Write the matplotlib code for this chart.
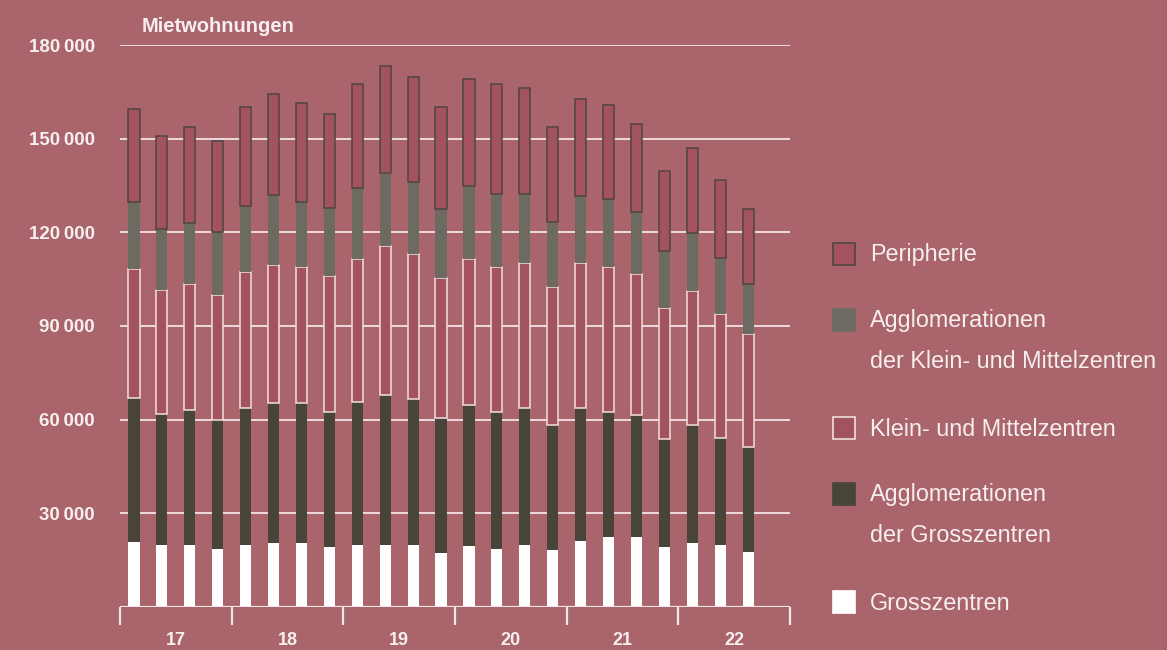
#!/usr/bin/env python3
"""
Mietwohnungen — stacked bars per quarter, 2017 to 2022 Q3
Output: out.png
"""

import matplotlib.pyplot as plt
from matplotlib.patches import Rectangle
import numpy as np

plt.rcParams['font.family'] = ['Liberation Sans', 'DejaVu Sans']

YEARS = ["17", "18", "19", "20", "21", "22"]
QUARTERS_PER_YEAR = 4

# values in thousands, one per quarter (23 quarters)
grosszentren = [20.8, 19.9, 19.9, 18.6, 19.9, 20.5, 20.5, 19.2, 19.9, 19.9, 19.9, 17.3,
                19.5, 18.6, 19.9, 18.3, 21.1, 22.4, 22.4, 19.2, 20.5, 19.9, 17.6]
agglo_gross = [46.2, 42.0, 43.3, 41.2, 43.9, 44.9, 44.9, 43.4, 45.9, 48.1, 46.6, 43.3,
               45.3, 44.0, 43.9, 40.1, 42.7, 40.2, 39.2, 34.7, 37.9, 34.3, 33.7]
klein_mittel = [41.3, 39.7, 40.2, 40.0, 43.4, 44.2, 43.4, 43.4, 45.6, 47.5, 46.7, 44.8,
                46.6, 46.4, 46.5, 44.0, 46.5, 46.4, 45.0, 41.8, 42.7, 39.7, 36.0]
agglo_km = [21.3, 19.6, 19.6, 20.4, 21.3, 22.5, 20.8, 21.8, 22.7, 23.4, 22.8, 22.0,
            23.4, 23.4, 22.1, 20.9, 21.3, 21.7, 19.9, 18.3, 18.8, 17.8, 16.0]
peripherie = [29.8, 29.7, 30.6, 29.2, 31.5, 32.1, 31.7, 30.2, 33.3, 34.5, 33.7, 32.6,
              34.2, 35.0, 33.7, 30.5, 31.0, 30.0, 28.2, 25.5, 27.0, 25.0, 24.2]

Y_TICKS = [30000, 60000, 90000, 120000, 150000, 180000]

BG       = "#a9646c"
BAR_FILL = "#a3525f"
WHITE    = "#ffffff"
TEXT     = "#f7eeee"
GRID     = "#f3e4e6"
DARK     = "#48443a"
GREY     = "#6d6a62"
EDGE_DK  = "#4f4540"
EDGE_LT  = "#f2dfe1"

fig = plt.figure(figsize=(11.67, 6.5), dpi=100, facecolor=BG)
ax = fig.add_axes([120 / 1167, 1 - 607 / 650, 670 / 1167, 562 / 650])
ax.set_facecolor(BG)

n = len(grosszentren)
x = np.arange(n) + 0.5
w = 0.40

series = [
    (grosszentren, WHITE, WHITE, 0),
    (agglo_gross, DARK, DARK, 0),
    (klein_mittel, BAR_FILL, EDGE_LT, 1.1),
    (agglo_km, GREY, GREY, 0),
    (peripherie, BAR_FILL, EDGE_DK, 1.1),
]
bottom = np.zeros(n)
for vals, fc, ec, lw in series:
    v = np.array(vals) * 1000
    ax.bar(x, v, w, bottom=bottom, color=fc, edgecolor=ec, linewidth=lw, zorder=3)
    bottom += v

ax.set_xlim(0, len(YEARS) * QUARTERS_PER_YEAR)
ax.set_ylim(0, 180000)
for s in ax.spines.values():
    s.set_visible(False)

for yv in Y_TICKS:
    ax.axhline(yv, color=GRID, linewidth=1.3, zorder=1)
ax.axhline(0, color=GRID, linewidth=1.6, zorder=4)

ax.set_yticks(Y_TICKS)
ax.set_yticklabels([f"{v // 1000}\u2009000" for v in Y_TICKS])
ax.tick_params(axis='y', length=0, pad=18, labelcolor=TEXT, labelsize=13.5)
for lab in ax.get_yticklabels():
    lab.set_fontweight('bold')

# year separators as ticks, labels centred between them
ax.set_xticks(np.arange(0, len(YEARS) * QUARTERS_PER_YEAR + 1, QUARTERS_PER_YEAR))
ax.set_xticklabels([])
ax.set_xticks(np.arange(len(YEARS)) * QUARTERS_PER_YEAR + 2, minor=True)
ax.set_xticklabels(YEARS, minor=True)
ax.tick_params(axis='x', which='major', direction='out', length=13, width=1.6, color=GRID)
ax.tick_params(axis='x', which='minor', length=0, pad=18, labelcolor=TEXT, labelsize=13)
for lab in ax.get_xticklabels(minor=True):
    lab.set_fontweight('bold')

fig.text(142 / 1167, 1 - 26 / 650, "Mietwohnungen", color=TEXT, fontsize=14.5,
         fontweight='bold', va='center', ha='left')

# legend drawn by hand
legend_items = [
    (254, BAR_FILL, EDGE_DK, ["Peripherie"]),
    (320, GREY, GREY, ["Agglomerationen", "der Klein- und Mittelzentren"]),
    (428, BAR_FILL, EDGE_LT, ["Klein- und Mittelzentren"]),
    (494, DARK, DARK, ["Agglomerationen", "der Grosszentren"]),
    (602, WHITE, WHITE, ["Grosszentren"]),
]
for yc, fc, ec, lines in legend_items:
    fig.patches.append(Rectangle((833 / 1167, 1 - (yc + 11) / 650), 22 / 1167, 22 / 650,
                                 transform=fig.transFigure, facecolor=fc,
                                 edgecolor=ec, linewidth=1.2))
    for k, t in enumerate(lines):
        fig.text(870 / 1167, 1 - (yc + 1 + k * 41) / 650, t, color=TEXT, fontsize=16.8,
                 va='center', ha='left')

fig.savefig("out.png", dpi=100, facecolor=BG)
